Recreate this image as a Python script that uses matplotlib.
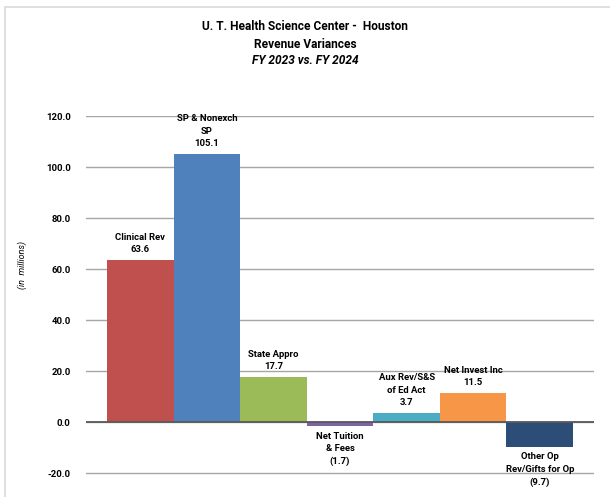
import numpy as np
import matplotlib.pyplot as plt
from matplotlib.patches import Rectangle

# Revenue variance by category, FY 2023 vs FY 2024 ($ millions)
categories = ["Clinical Rev", "SP & Nonexch\nSP", "State Appro", "Net Tuition\n& Fees",
              "Aux Rev/S&S\nof Ed Act", "Net Invest Inc", "Other Op\nRev/Gifts for Op"]
variances = [63.6, 105.1, 17.7, -1.7, 3.7, 11.5, -9.7]
colors = ["#C0504D", "#4F81BD", "#9BBB59", "#8064A2", "#4BACC6", "#F79646", "#2C4D75"]
yticks = [-20, 0, 20, 40, 60, 80, 100, 120]

plt.rcParams['font.family'] = ['Roboto', 'DejaVu Sans']

fig = plt.figure(figsize=(6.10, 4.97), dpi=100)
fig.patches.append(Rectangle((5 / 610, -0.1), 1.1, 1 - 7 / 497 + 0.1, transform=fig.transFigure,
                             fill=False, edgecolor="#d9d9d9", linewidth=1.2))

ax = fig.add_axes([86 / 610, 0.0, (594 - 86) / 610, 1 - 116 / 497])

x = np.arange(len(variances))
ax.bar(x, variances, width=1.0, color=colors, zorder=2)

# category name + value above (or below) each bar
for xi, v, name in zip(x, variances, categories):
    val = f"({abs(v):.1f})" if v < 0 else f"{v:.1f}"
    txt = f"{name}\n{val}"
    if v >= 0:
        ax.annotate(txt, (xi, v), xytext=(0, 4), textcoords="offset points",
                    ha="center", va="bottom", fontsize=6.8, fontweight="bold",
                    linespacing=1.5)
    else:
        ax.annotate(txt, (xi, v), xytext=(0, -4), textcoords="offset points",
                    ha="center", va="top", fontsize=6.8, fontweight="bold",
                    linespacing=1.5)

ax.set_xlim(-0.5 - 0.315, 6.5 + 0.315)
ax.set_ylim(-29.4, 120)
ax.set_yticks(yticks)
ax.set_yticklabels([f"{t:.1f}" for t in yticks], fontsize=6.8, fontweight="bold")
ax.tick_params(axis="y", length=0, pad=11)
ax.set_xticks([])
ax.grid(axis="y", color="#a6a6a6", linewidth=1.0, zorder=0)
ax.axhline(0, color="#595959", linewidth=1.3, zorder=3)
for s in ax.spines.values():
    s.set_visible(False)

fig.text(0.5, 1 - 27 / 497, "U. T. Health Science Center -  Houston", ha="center", va="center",
         fontsize=8.6, fontweight="bold")
fig.text(0.5, 1 - 44 / 497, "Revenue Variances", ha="center", va="center",
         fontsize=8.6, fontweight="bold")
fig.text(0.5, 1 - 61 / 497, "FY 2023 vs. FY 2024", ha="center", va="center",
         fontsize=8.6, fontweight="bold", style="italic")
fig.text(22 / 610, 1 - 265 / 497, "(in  millions)", rotation=90, ha="center", va="center",
         fontsize=6.5, style="italic")

fig.savefig("out.png", dpi=100)
